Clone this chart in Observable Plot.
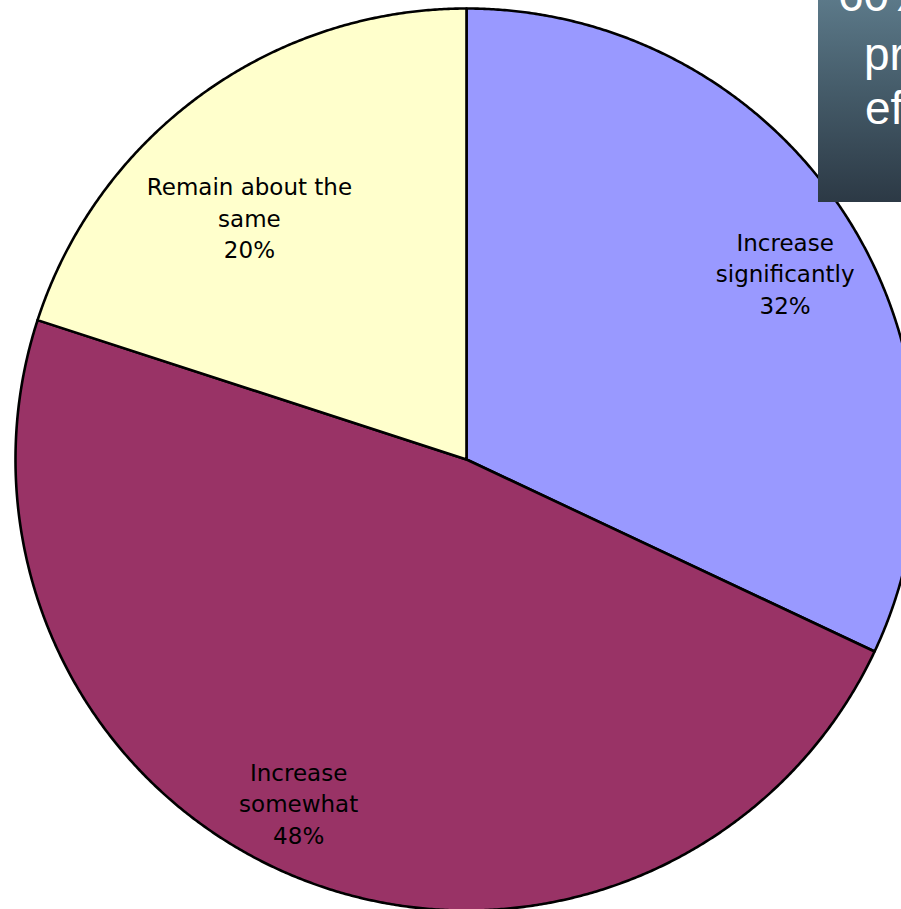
<!DOCTYPE html>
<html>
<head>
<meta charset="utf-8">
<script src="https://cdn.jsdelivr.net/npm/d3@7"></script>
<script src="https://cdn.jsdelivr.net/npm/@observablehq/plot@0.6"></script>
<style>
  html, body { margin: 0; padding: 0; background: white; overflow: hidden; }
  #wrap { position: relative; width: 901px; height: 909px; overflow: hidden; }
  #box {
    position: absolute; left: 818px; top: -10px; width: 320px; height: 212px;
    background: linear-gradient(to bottom, #5e7c8c 0%, #465d6b 45%, #2c3945 100%);
    color: white; font-family: "Liberation Sans", Arial, sans-serif; font-size: 46px;
  }
  #box span { position: absolute; white-space: nowrap; line-height: 1; }
</style>
</head>
<body>
<div id="wrap">
  <div id="chart"></div>
  <div id="box">
    <span style="left:20px; top:-18px;">60%</span>
    <span style="left:46px; top:41px;">projects</span>
    <span style="left:47px; top:95px;">effective</span>
  </div>
</div>
<script>
const categories = ["Increase significantly", "Increase somewhat", "Remain about the same"];
const values = [32, 48, 20];
const labelLines = ["Increase\nsignificantly", "Increase\nsomewhat", "Remain about the\nsame"];
const colors = ["#9999FF", "#993366", "#FFFFCC"];

const data = categories.map((c, i) => ({category: c, value: values[i], label: labelLines[i] + "\n" + values[i] + "%"}));
const arcs = d3.pie().sort(null).value(d => d.value)(data);

// slice outlines as polygons (center + arc)
const pts = [];
arcs.forEach(a => {
  const c = a.data.category;
  pts.push({category: c, x: 0, y: 0});
  const n = Math.max(2, Math.ceil((a.endAngle - a.startAngle) / 0.005));
  for (let k = 0; k <= n; k++) {
    const t = a.startAngle + (a.endAngle - a.startAngle) * k / n;
    pts.push({category: c, x: Math.sin(t), y: Math.cos(t)});
  }
  pts.push({category: c, x: 0, y: 0});
});

const labels = arcs.map(a => {
  const m = (a.startAngle + a.endAngle) / 2;
  return {label: a.data.label, x: 0.8 * Math.sin(m), y: 0.8 * Math.cos(m)};
});

// small per-label nudges (best-fit placement as in the original)
const nudges = [[14, 6], [-35, 7], [-5, 49]];

const chart = Plot.plot({
  width: 901,
  height: 909,
  margin: 0,
  x: {domain: [-1, 1], range: [15, 917], axis: null},
  y: {domain: [-1, 1], range: [910, 8], axis: null},
  color: {domain: categories, range: colors},
  style: {background: "white"},
  marks: [
    Plot.line(pts, {x: "x", y: "y", z: "category", fill: "category", stroke: "black", strokeWidth: 2.6, strokeLinejoin: "round"}),
    ...labels.map((l, i) => Plot.text([l], {x: "x", y: "y", text: "label", fill: "black", fontSize: 23, lineHeight: 1.37,
      fontFamily: "DejaVu Sans, Verdana, sans-serif", textAnchor: "middle", dx: nudges[i][0], dy: nudges[i][1]}))
  ]
});
document.getElementById("chart").appendChild(chart);
</script>
</body>
</html>
